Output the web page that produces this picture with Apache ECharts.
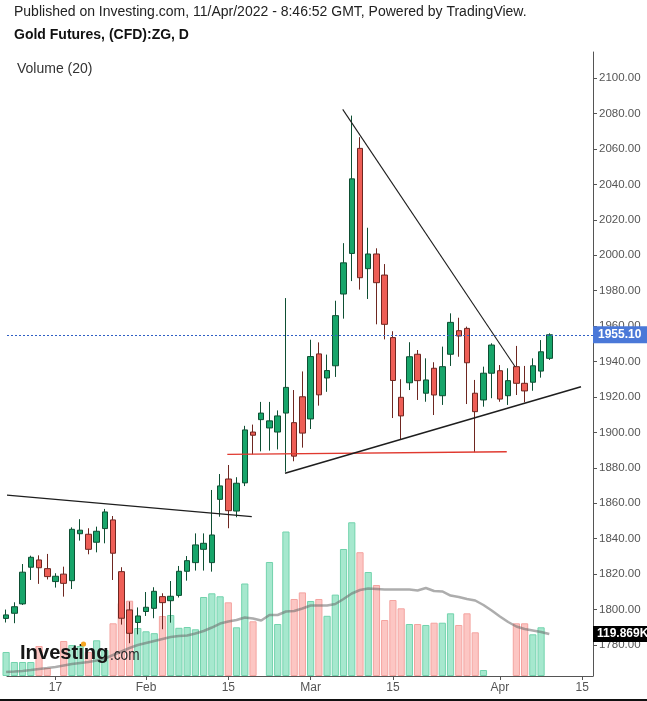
<!DOCTYPE html>
<html><head><meta charset="utf-8">
<script src="https://cdn.jsdelivr.net/npm/echarts@6/dist/echarts.min.js"></script>
<style>html,body{margin:0;padding:0;background:#fff}#c{width:647px;height:701px}</style>
</head><body><div id="c"></div>
<script>
// Trading days (index 0 = 7 Jan 2022)
const dates = ['Jan 7','Jan 10','Jan 11','Jan 12','Jan 13','Jan 14','Jan 17','Jan 18','Jan 19','Jan 20','Jan 21',
 'Jan 24','Jan 25','Jan 26','Jan 27','Jan 28','Jan 31','Feb 1','Feb 2','Feb 3','Feb 4',
 'Feb 7','Feb 8','Feb 9','Feb 10','Feb 11','Feb 14','Feb 15','Feb 16','Feb 17','Feb 18',
 'Feb 21','Feb 22','Feb 23','Feb 24','Feb 25','Feb 28','Mar 1','Mar 2','Mar 3','Mar 4',
 'Mar 7','Mar 8','Mar 9','Mar 10','Mar 11','Mar 14','Mar 15','Mar 16','Mar 17','Mar 18',
 'Mar 21','Mar 22','Mar 23','Mar 24','Mar 25','Mar 28','Mar 29','Mar 30','Mar 31','Apr 1',
 'Apr 4','Apr 5','Apr 6','Apr 7','Apr 8','Apr 11'];
const opens = [1795.0,1797.9,1803.2,1823.9,1828.0,1823.1,1815.8,1820.0,1816.3,1842.8,1842.5,
 1838.0,1845.7,1850.6,1821.4,1799.8,1792.7,1798.9,1800.7,1807.3,1805.0,
 1808.0,1821.6,1826.5,1834.0,1826.5,1862.2,1873.7,1855.6,1871.5,1900.2,
 1907.2,1902.5,1900.2,1910.9,1905.5,1920.1,1907.6,1944.3,1930.7,1937.6,
 1978.1,2001.0,2060.3,1992.4,2000.7,1988.8,1953.5,1919.8,1928.0,1944.1,
 1922.1,1936.2,1920.7,1944.1,1957.4,1958.7,1922.1,1918.3,1933.4,1934.8,
 1920.7,1937.1,1927.7,1928.3,1934.6,1941.8];
const highs = [1800.0,1804.1,1825.7,1830.4,1830.6,1831.4,1820.5,1824.2,1846.4,1851.0,1845.9,
 1846.8,1856.8,1852.8,1823.9,1804.5,1801.2,1809.9,1812.6,1809.2,1816.1,
 1824.6,1830.2,1843.0,1843.0,1867.5,1876.5,1881.6,1874.7,1903.7,1904.4,
 1917.2,1917.2,1912.4,1975.8,1923.9,1934.4,1952.3,1950.8,1943.9,1974.3,
 2006.8,2078.8,2066.6,2015.5,2003.9,1995.0,1957.1,1930.0,1950.9,1946.5,
 1941.8,1939.6,1948.4,1967.2,1964.7,1959.7,1929.6,1937.1,1950.3,1938.0,
 1936.2,1948.8,1937.5,1941.8,1952.1,1955.9];
const lows = [1792.7,1792.3,1802.6,1816.7,1814.5,1817.0,1812.4,1807.3,1811.6,1838.9,1831.2,
 1832.3,1837.4,1816.7,1791.5,1781.0,1786.0,1796.4,1795.1,1788.9,1792.6,
 1806.8,1816.3,1822.0,1822.0,1821.4,1852.4,1845.9,1852.1,1869.7,1887.6,
 1889.3,1889.7,1890.4,1877.8,1883.7,1891.4,1901.9,1915.1,1922.9,1931.3,
 1964.2,1985.4,1980.6,1975.3,1961.0,1952.5,1908.1,1895.7,1923.9,1918.3,
 1917.3,1909.8,1915.5,1937.5,1942.7,1916.0,1888.8,1914.5,1919.3,1917.3,
 1915.5,1921.1,1917.0,1923.5,1930.9,1940.9];
const closes = [1797.0,1801.6,1821.1,1829.5,1823.6,1818.6,1818.8,1814.8,1845.3,1844.8,1834.0,
 1844.2,1855.1,1831.8,1795.1,1786.6,1796.4,1801.3,1810.3,1803.9,1807.5,
 1821.6,1827.6,1836.5,1837.4,1842.1,1869.8,1855.8,1871.3,1901.4,1898.4,
 1910.9,1906.5,1909.3,1925.4,1886.6,1899.6,1942.8,1921.2,1934.9,1965.9,
 1995.7,2043.1,1987.3,2000.7,1984.5,1961.0,1929.3,1909.3,1942.7,1929.2,
 1929.6,1921.1,1937.1,1962.1,1954.4,1939.3,1911.7,1933.4,1949.3,1918.8,
 1929.2,1927.7,1923.4,1937.6,1945.5,1955.1];
// Volume in thousands
const volumes = [68.5,40.0,40.0,40.0,85.6,22.8,0,99.9,88.5,85.6,68.5,
 101.9,74.2,150.4,208.3,214.9,137.0,127.6,122.2,171.2,174.1,
 137.6,139.8,133.3,225.5,236.0,227.5,210.3,139.0,264.0,156.1,
 0,325.4,148.4,412.4,219.8,238.6,214.1,219.8,171.8,232.3,
 362.5,438.7,353.3,296.8,259.7,159.8,216.9,193.2,148.4,148.4,
 145.6,152.1,152.1,178.9,145.6,178.9,124.7,17.1,0,0,
 0,150.4,150.4,119.0,139.0,0];
// Volume moving average (20), thousands
const volMA = [11.4,12.8,14.3,17.1,20.0,22.8,25.7,30.0,34.2,37.1,40.0,
 44.2,49.9,59.9,69.9,79.9,88.5,94.2,99.9,105.6,111.3,
 114.2,115.6,121.3,128.4,138.4,149.8,155.5,159.8,167.0,164.1,
 158.4,174.1,174.1,184.1,185.5,192.6,201.2,201.2,201.2,205.5,
 219.8,235.5,245.4,249.7,248.3,246.9,246.9,246.9,246.9,244.0,
 251.2,242.6,241.2,229.7,225.5,219.8,215.5,202.6,186.9,169.8,
 154.1,141.3,134.1,129.9,125.6,119.869];
const lastPrice = 1955.10;
const xTickIdx = [6,17,27,37,47,60,70];
const xTickLabels = ['17','Feb','15','Mar','15','Apr','15'];
const priceTicks = [1780,1800,1820,1840,1860,1880,1900,1920,1940,1960,1980,2000,2020,2040,2060,2080,2100];
// Drawn trend lines, in [day index, price]
const lineOverhead = [[0.11,1864.6],[29.85,1852.4]];
const lineSupport = [[26.88,1887.6],[60.83,1889.1]];
const lineRising = [[33.89,1876.9],[69.85,1925.8]];
const lineFalling = [[40.9,2082.3],[61.87,1936.9]];

const FONT = '"Liberation Sans", Arial, Helvetica, sans-serif';
const xMin = 0.109, xMax = 71.31;
const yMin = 1762.5, yMax = 2114.7;

const chart = echarts.init(document.getElementById('c'), null, {renderer:'canvas'});
const isUp = i => closes[i] >= opens[i];
const candleData = dates.map((d,i)=>[i, opens[i], closes[i], lows[i], highs[i]]);
const volData = volumes.map((v,i)=> v>0 ? {value:[i,v], itemStyle:{
  color: isUp(i) ? '#a6e8ce' : '#fcc6c3',
  borderColor: isUp(i) ? '#73d3ad' : '#f4a4a0'}} : null).filter(Boolean);
const maData = volMA.map((v,i)=>[i,v]);

function tline(pts, color, width){
  return {type:'line', xAxisIndex:0, yAxisIndex:0, data:pts, showSymbol:false, symbol:'none',
    lineStyle:{color:color, width:width}, z:5, silent:true, animation:false, clip:true};
}

chart.setOption({
  animation:false,
  textStyle:{fontFamily:FONT},
  grid:[{left:7,right:54,top:52,bottom:25},{left:7,right:54,top:476,bottom:25}],
  xAxis:[
    {type:'value', gridIndex:0, min:xMin, max:xMax, splitLine:{show:false},
     axisLine:{show:true, lineStyle:{color:'#555', width:1}},
     axisTick:{show:true, customValues:xTickIdx, length:4, lineStyle:{color:'#555'}},
     axisLabel:{show:true, customValues:xTickIdx, color:'#555', fontSize:12, margin:6, fontFamily:FONT,
       formatter:v=>{const k=xTickIdx.indexOf(Math.round(v)); return k>=0?xTickLabels[k]:'';}}},
    {type:'value', gridIndex:1, min:xMin, max:xMax, show:false}
  ],
  yAxis:[
    {type:'value', gridIndex:0, position:'right', min:yMin, max:yMax, splitLine:{show:false},
     axisLine:{show:true, lineStyle:{color:'#555', width:1}},
     axisTick:{show:true, customValues:priceTicks, length:4, lineStyle:{color:'#555'}},
     axisLabel:{show:true, customValues:priceTicks, color:'#555', fontSize:11.5, margin:6, fontFamily:FONT,
       formatter:v=>v.toFixed(2)}},
    {type:'value', gridIndex:1, min:0, max:570.8, show:false}
  ],
  series:[
    {type:'bar', xAxisIndex:1, yAxisIndex:1, data:volData, encode:{x:0,y:1}, barWidth:7.2,
     itemStyle:{borderWidth:1}, z:1, silent:true},
    {type:'line', xAxisIndex:1, yAxisIndex:1, data:maData, showSymbol:false, symbol:'none',
     lineStyle:{color:'rgba(105,105,105,0.55)', width:2.5}, z:2, silent:true},
    {type:'candlestick', xAxisIndex:0, yAxisIndex:0, data:candleData, encode:{x:0,y:[1,2,3,4]},
     barWidth:6, z:4, clip:true,
     itemStyle:{color:'#17a56a', color0:'#ee5e56', borderColor:'#0e4f33', borderColor0:'#6e2620', borderWidth:1},
     markLine:{silent:true, symbol:'none', label:{show:false},
       lineStyle:{color:'#2f5fc4', type:[2,2], width:1}, data:[{yAxis:lastPrice}]}},
    tline(lineOverhead, '#1e1e1e', 1.3),
    tline(lineSupport, '#e0392f', 1.4),
    tline(lineRising, '#1e1e1e', 1.5),
    tline(lineFalling, '#1e1e1e', 1.1)
  ]
});

const py = chart.convertToPixel({yAxisIndex:0}, lastPrice);
const vy = chart.convertToPixel({yAxisIndex:1}, volMA[volMA.length-1]);
chart.setOption({graphic:[
  {type:'text', x:14, y:12, style:{text:'Published on Investing.com, 11/Apr/2022 - 8:46:52 GMT, Powered by TradingView.', font:'14px '+FONT, fill:'#222', verticalAlign:'middle'}},
  {type:'text', x:14, y:35, style:{text:'Gold Futures, (CFD):ZG, D', font:'bold 14px '+FONT, fill:'#111', verticalAlign:'middle'}},
  {type:'text', x:17, y:69, style:{text:'Volume (20)', font:'14px '+FONT, fill:'#333', verticalAlign:'middle'}},
  {type:'text', x:20, y:653, z:50, scaleX:0.96, style:{text:'Investing', font:'bold 21px '+FONT, fill:'#161616', verticalAlign:'middle'}},
  {type:'text', x:110, y:655, z:50, scaleX:0.8, style:{text:'.com', font:'17px '+FONT, fill:'#2a2a2a', verticalAlign:'middle'}},
  {type:'circle', z:51, shape:{cx:83.5, cy:644, r:2.6}, style:{fill:'#f5a623'}},
  {type:'rect', z:60, shape:{x:593, y:py-8.5, width:56, height:17}, style:{fill:'#4a78d8'}},
  {type:'text', z:61, x:598, y:py, style:{text:lastPrice.toFixed(2), font:'bold 12px '+FONT, fill:'#fff', verticalAlign:'middle'}},
  {type:'rect', z:60, shape:{x:593, y:vy-8, width:56, height:16}, style:{fill:'#000'}},
  {type:'text', z:61, x:597, y:vy, style:{text:'119.869K', font:'bold 12px '+FONT, fill:'#fff', verticalAlign:'middle'}},
  {type:'rect', z:60, shape:{x:0, y:699, width:647, height:2}, style:{fill:'#111'}}
]});
</script>
</body></html>
